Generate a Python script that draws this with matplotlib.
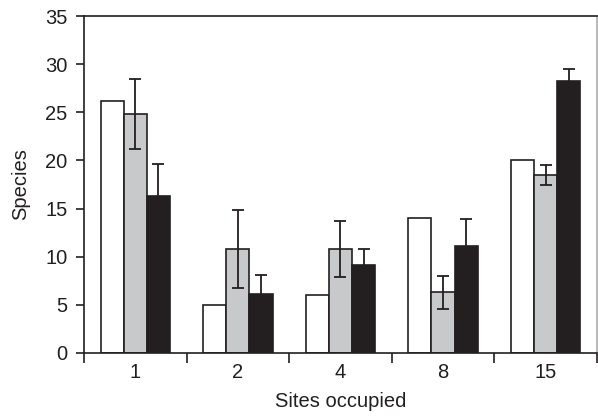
import matplotlib
matplotlib.use("Agg")
import matplotlib.pyplot as plt
import numpy as np

plt.rcParams['font.family'] = ['Liberation Sans', 'DejaVu Sans']

categories = ["1", "2", "4", "8", "15"]
white_vals = [26.2, 5.0, 6.0, 14.0, 20.0]
gray_vals = [24.8, 10.8, 10.8, 6.3, 18.5]
gray_err = [3.65, 4.0, 2.95, 1.7, 1.05]
black_vals = [16.3, 6.15, 9.15, 11.15, 28.3]
black_err = [3.3, 1.95, 1.65, 2.8, 1.15]
yticks = [0, 5, 10, 15, 20, 25, 30, 35]

ink = "#231f20"
fs = 14.5
fig = plt.figure(figsize=(5.98, 4.2), dpi=100)
ax = fig.add_axes([84/598, 1-353/420, 1-84/598-0.002, (353-16)/420])

x = np.arange(len(categories))
w = 0.226
ekw = dict(ecolor=ink, elinewidth=1.3, capsize=4.3, capthick=1.3)
ax.bar(x - w, white_vals, w, color="white", edgecolor=ink, linewidth=1.2, zorder=2)
ax.bar(x, gray_vals, w, color="#c8c9cb", edgecolor=ink, linewidth=1.2, zorder=2)
ax.errorbar(x, gray_vals, yerr=gray_err, fmt="none", zorder=3, **ekw)
ax.bar(x + w, black_vals, w, color=ink, edgecolor=ink, linewidth=1.2, zorder=2)
ax.errorbar(x + w, black_vals, yerr=black_err, fmt="none", zorder=1, **ekw)

ax.set_xlim(-0.5, 4.5)
ax.set_ylim(0, 35)
ax.set_yticks(yticks)
ax.set_xticks(np.arange(-0.5, 5.0, 1.0))
ax.set_xticklabels([])
ax.set_xticks(x, minor=True)
ax.set_xticklabels(categories, minor=True)
ax.tick_params(axis="x", which="major", direction="out", length=7, width=1.2, color=ink)
ax.tick_params(axis="x", which="minor", length=0, pad=7.5, labelsize=fs, labelcolor=ink)
ax.tick_params(axis="y", direction="out", length=6, width=1.2, color=ink, labelsize=fs, labelcolor=ink, pad=6)

for s in ax.spines.values():
    s.set_color(ink)
    s.set_linewidth(1.2)
ax.spines["right"].set_color("#aaaaaa")

ax.set_xlabel("Sites occupied", fontsize=fs, color=ink, labelpad=7)
ax.set_ylabel("Species", fontsize=fs, color=ink, labelpad=11)

fig.savefig("out.png", dpi=100)
